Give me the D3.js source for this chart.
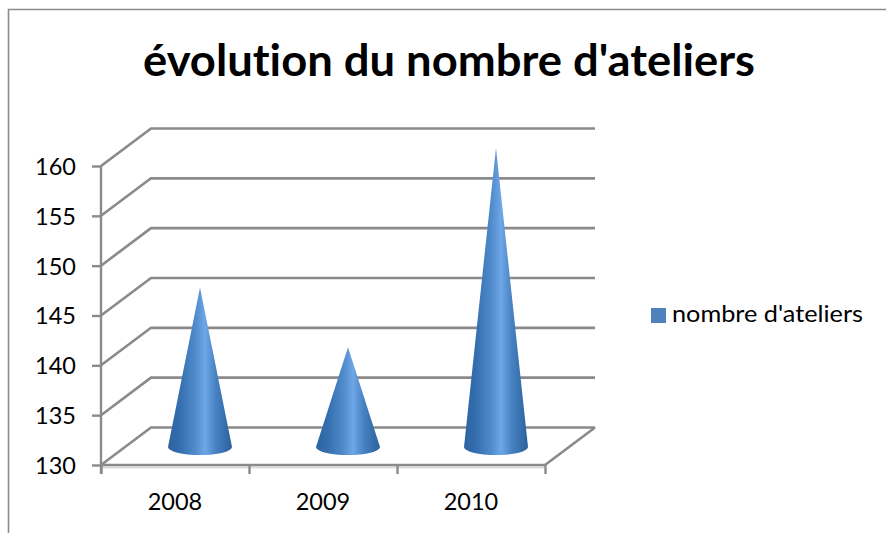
<!DOCTYPE html>
<html><head><meta charset="utf-8">
<script src="https://cdn.jsdelivr.net/npm/d3@7"></script>
<style>html,body{margin:0;padding:0;background:#fff;overflow:hidden}svg{display:block}text{font-family:Lato,"Open Sans",sans-serif;fill:#000;font-variant-ligatures:none}</style>
</head><body><svg id="c" width="886" height="533"></svg>
<script>
const categories=["2008","2009","2010"];
const values=[146,140,160];
const yTicks=[130,135,140,145,150,155,160];
const seriesName="nombre d'ateliers";
const titleText="évolution du nombre d'ateliers";

const svg=d3.select("#c");
const W=886,H=533;
const x=d3.scaleBand().domain(categories).range([101,545]);
const y=d3.scaleLinear().domain([130,160]).range([465,166]);
const depth={x:50,y:-37.5};
const grey="#8a8a8a";

const defs=svg.append("defs");
const g=defs.append("linearGradient").attr("id","cone").attr("x1",0).attr("x2",1).attr("y1",0).attr("y2",0);
[[0,"#2d62a0"],[.2,"#3670b0"],[.42,"#4f8acb"],[.58,"#6ea6e6"],[.75,"#4681c2"],[1,"#2b609c"]]
 .forEach(s=>g.append("stop").attr("offset",s[0]).attr("stop-color",s[1]));

// frame
svg.append("path").attr("d",`M8.5,${H}V9.5H${W}`).attr("fill","none").attr("stroke",grey).attr("stroke-width",1.6);

// title
svg.append("text").attr("x",449).attr("y",76).attr("text-anchor","middle")
  .attr("font-size",43).attr("font-weight",700).attr("textLength",612).attr("lengthAdjust","spacingAndGlyphs").text(titleText);

// gridlines (side wall + back wall)
const x0=x.range()[0],x1=x.range()[1];
svg.append("g").selectAll("path").data(yTicks).join("path")
  .attr("d",d=>`M${x0},${y(d)}L${x0+depth.x},${y(d)+depth.y}H${x1+depth.x}`)
  .attr("fill","none").attr("stroke",grey).attr("stroke-width",2.6);

// floor edge on right
svg.append("path").attr("d",`M${x1},${y(130)}L${x1+depth.x},${y(130)+depth.y}`).attr("stroke",grey).attr("stroke-width",2.6).attr("fill","none");

// floor front shade
svg.append("line").attr("x1",x0).attr("x2",x1).attr("y1",y(130)+2.5).attr("y2",y(130)+2.5).attr("stroke","#dcdcdc").attr("stroke-width",2);

// axes
const yAxis=d3.axisLeft(y).tickValues(yTicks).tickSize(9).tickPadding(16);
const ya=svg.append("g").attr("transform",`translate(${x0},0)`).call(yAxis);
ya.selectAll("text").attr("font-size",23.5).attr("dy","0.36em").style("font-family","Lato");
ya.selectAll("line,path").attr("stroke",grey).attr("stroke-width",2.4);
ya.select(".domain").attr("d",`M0,${y(160)}V${y(130)+9}`);

const xEdges=d3.axisBottom(d3.scaleLinear().domain([0,3]).range([x0,x1])).tickValues([0,1,2,3]).tickSize(9).tickFormat("");
const xa=svg.append("g").attr("transform",`translate(0,${y(130)})`).call(xEdges);
xa.selectAll("line,path").attr("stroke",grey).attr("stroke-width",2.4);
xa.select(".domain").attr("d",`M${x0},0H${x1}`);
svg.append("g").selectAll("text").data(categories).join("text")
  .attr("x",d=>x(d)+x.bandwidth()/2).attr("y",y(130)+45).attr("text-anchor","middle").attr("font-size",23.5).text(d=>d);

// cones
const coneBase=y(130)-18, rx=32, ry=8;
const tipY=v=>y(v)-18;
const coneShift=depth.x/2;
svg.append("g").selectAll("path").data(values).join("path")
  .attr("fill","url(#cone)")
  .attr("d",(v,i)=>{const c=x(categories[i])+x.bandwidth()/2+coneShift;
    return `M${c-rx},${coneBase}L${c},${tipY(v)}L${c+rx},${coneBase}A${rx},${ry} 0 0 1 ${c-rx},${coneBase}Z`;});

// legend
svg.append("rect").attr("x",651).attr("y",308).attr("width",15).attr("height",15).attr("fill","#4f81bd");
svg.append("text").attr("x",672).attr("y",322).attr("font-size",24).attr("textLength",191).attr("lengthAdjust","spacingAndGlyphs").text(seriesName);
</script></body></html>
